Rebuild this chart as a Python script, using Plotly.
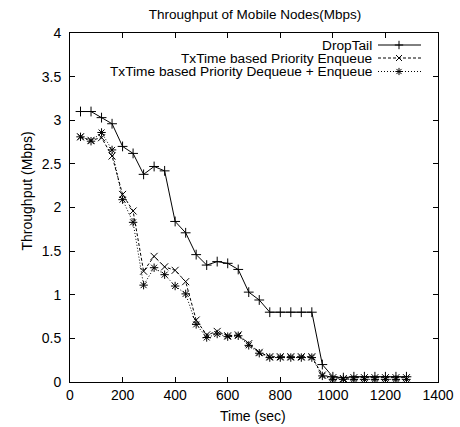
import plotly.graph_objects as go

time = [40, 80, 120, 160, 200, 240, 280, 320, 360, 400, 440, 480, 520, 560, 600, 640,
        680, 720, 760, 800, 840, 880, 920, 960, 1000, 1040, 1080, 1120, 1160, 1200, 1240, 1280]
droptail = [3.10, 3.10, 3.03, 2.96, 2.70, 2.62, 2.38, 2.47, 2.42, 1.84, 1.71, 1.46, 1.34, 1.38, 1.36, 1.29,
            1.03, 0.94, 0.80, 0.80, 0.80, 0.80, 0.80, 0.20, 0.06, 0.05, 0.06, 0.06, 0.06, 0.06, 0.06, 0.06]
enqueue = [2.81, 2.77, 2.80, 2.59, 2.15, 1.96, 1.27, 1.44, 1.32, 1.28, 1.15, 0.71, 0.54, 0.58, 0.53, 0.54,
           0.44, 0.34, 0.29, 0.29, 0.29, 0.29, 0.29, 0.08, 0.05, 0.04, 0.05, 0.05, 0.05, 0.05, 0.05, 0.05]
deqenq = [2.81, 2.76, 2.86, 2.66, 2.09, 1.83, 1.11, 1.31, 1.23, 1.10, 1.01, 0.66, 0.51, 0.55, 0.52, 0.53,
          0.42, 0.33, 0.28, 0.28, 0.28, 0.28, 0.28, 0.07, 0.03, 0.03, 0.03, 0.03, 0.03, 0.03, 0.03, 0.03]

names = ["DropTail", "TxTime based Priority Enqueue", "TxTime based Priority Dequeue + Enqueue"]
series = [droptail, enqueue, deqenq]
symbols = ["cross-thin-open", "x-thin-open", "asterisk-open"]
dashes = ["solid", "3px,2px", "1px,2px"]

x_ticks = [0, 200, 400, 600, 800, 1000, 1200, 1400]
y_ticks = [0, 0.5, 1, 1.5, 2, 2.5, 3, 3.5, 4]
y_labels = ["0", "0.5", "1", "1.5", "2", "2.5", "3", "3.5", "4"]

FONT = "Liberation Sans, Arial, Helvetica, sans-serif"
W, H = 460, 427
L, R, T, B = 70, 22, 33, 45
PW, PH = W - L - R, H - T - B


def px_to_paper(px, py):
    return (px - L) / PW, (H - B - py) / PH


fig = go.Figure()
for name, ys, sym, dash in zip(names, series, symbols, dashes):
    fig.add_trace(go.Scatter(
        x=time, y=ys, mode="lines+markers", name=name,
        line=dict(color="black", width=1, dash=dash),
        marker=dict(symbol=sym, size=7, color="black", line=dict(color="black", width=1)),
        showlegend=False))

# custom gnuplot-like legend (text on left, sample on right)
row_y = [45, 58, 71.5]
for name, sym, dash, ry in zip(names, symbols, dashes, row_y):
    fig.add_trace(go.Scatter(
        x=[378, 399, 421], y=[ry, ry, ry], xaxis="x2", yaxis="y2",
        mode="lines", line=dict(color="black", width=1, dash=dash),
        showlegend=False, hoverinfo="skip"))
    fig.add_trace(go.Scatter(
        x=[399], y=[ry], xaxis="x2", yaxis="y2", mode="markers",
        marker=dict(symbol=sym, size=6, color="black", line=dict(color="black", width=1)),
        showlegend=False, hoverinfo="skip"))
    fig.add_annotation(x=374, y=ry, xref="x2", yref="y2", text=name, showarrow=False,
                       xanchor="right", yanchor="middle",
                       font=dict(family=FONT, size=13.7, color="black"))

# axis titles placed like gnuplot's
ax, ay = px_to_paper(26.5, 191)
fig.add_annotation(x=ax, y=ay, xref="paper", yref="paper", text="Throughput (Mbps)",
                   textangle=-90, showarrow=False, xanchor="center", yanchor="middle",
                   font=dict(family=FONT, size=14, color="black"))
bx, by = px_to_paper(253, 416.5)
fig.add_annotation(x=bx, y=by, xref="paper", yref="paper", text="Time (sec)",
                   showarrow=False, xanchor="center", yanchor="middle",
                   font=dict(family=FONT, size=14, color="black"))

axis_common = dict(showgrid=False, zeroline=False, showline=True, linecolor="black", linewidth=1,
                   mirror="allticks", ticks="inside", ticklen=5, tickcolor="black", automargin=False,
                   tickfont=dict(family=FONT, size=14, color="black"))

fig.update_layout(
    width=W, height=H,
    margin=dict(l=L, r=R, t=T, b=B),
    paper_bgcolor="white", plot_bgcolor="white",
    title=dict(text="Throughput of Mobile Nodes(Mbps)", x=255 / W, xanchor="center", y=1 - 14 / H, yanchor="middle",
               font=dict(family=FONT, size=13.5, color="black")),
    xaxis=dict(range=[0, 1400], tickvals=x_ticks, ticktext=[str(v) for v in x_ticks], **axis_common),
    yaxis=dict(range=[0, 4], tickvals=y_ticks, ticktext=y_labels, ticklabelstandoff=5, **axis_common),
    xaxis2=dict(range=[L, W - R], overlaying="x", visible=False, fixedrange=True),
    yaxis2=dict(range=[H - B, T], overlaying="y", visible=False, fixedrange=True),
)

fig.write_html("out.html")
